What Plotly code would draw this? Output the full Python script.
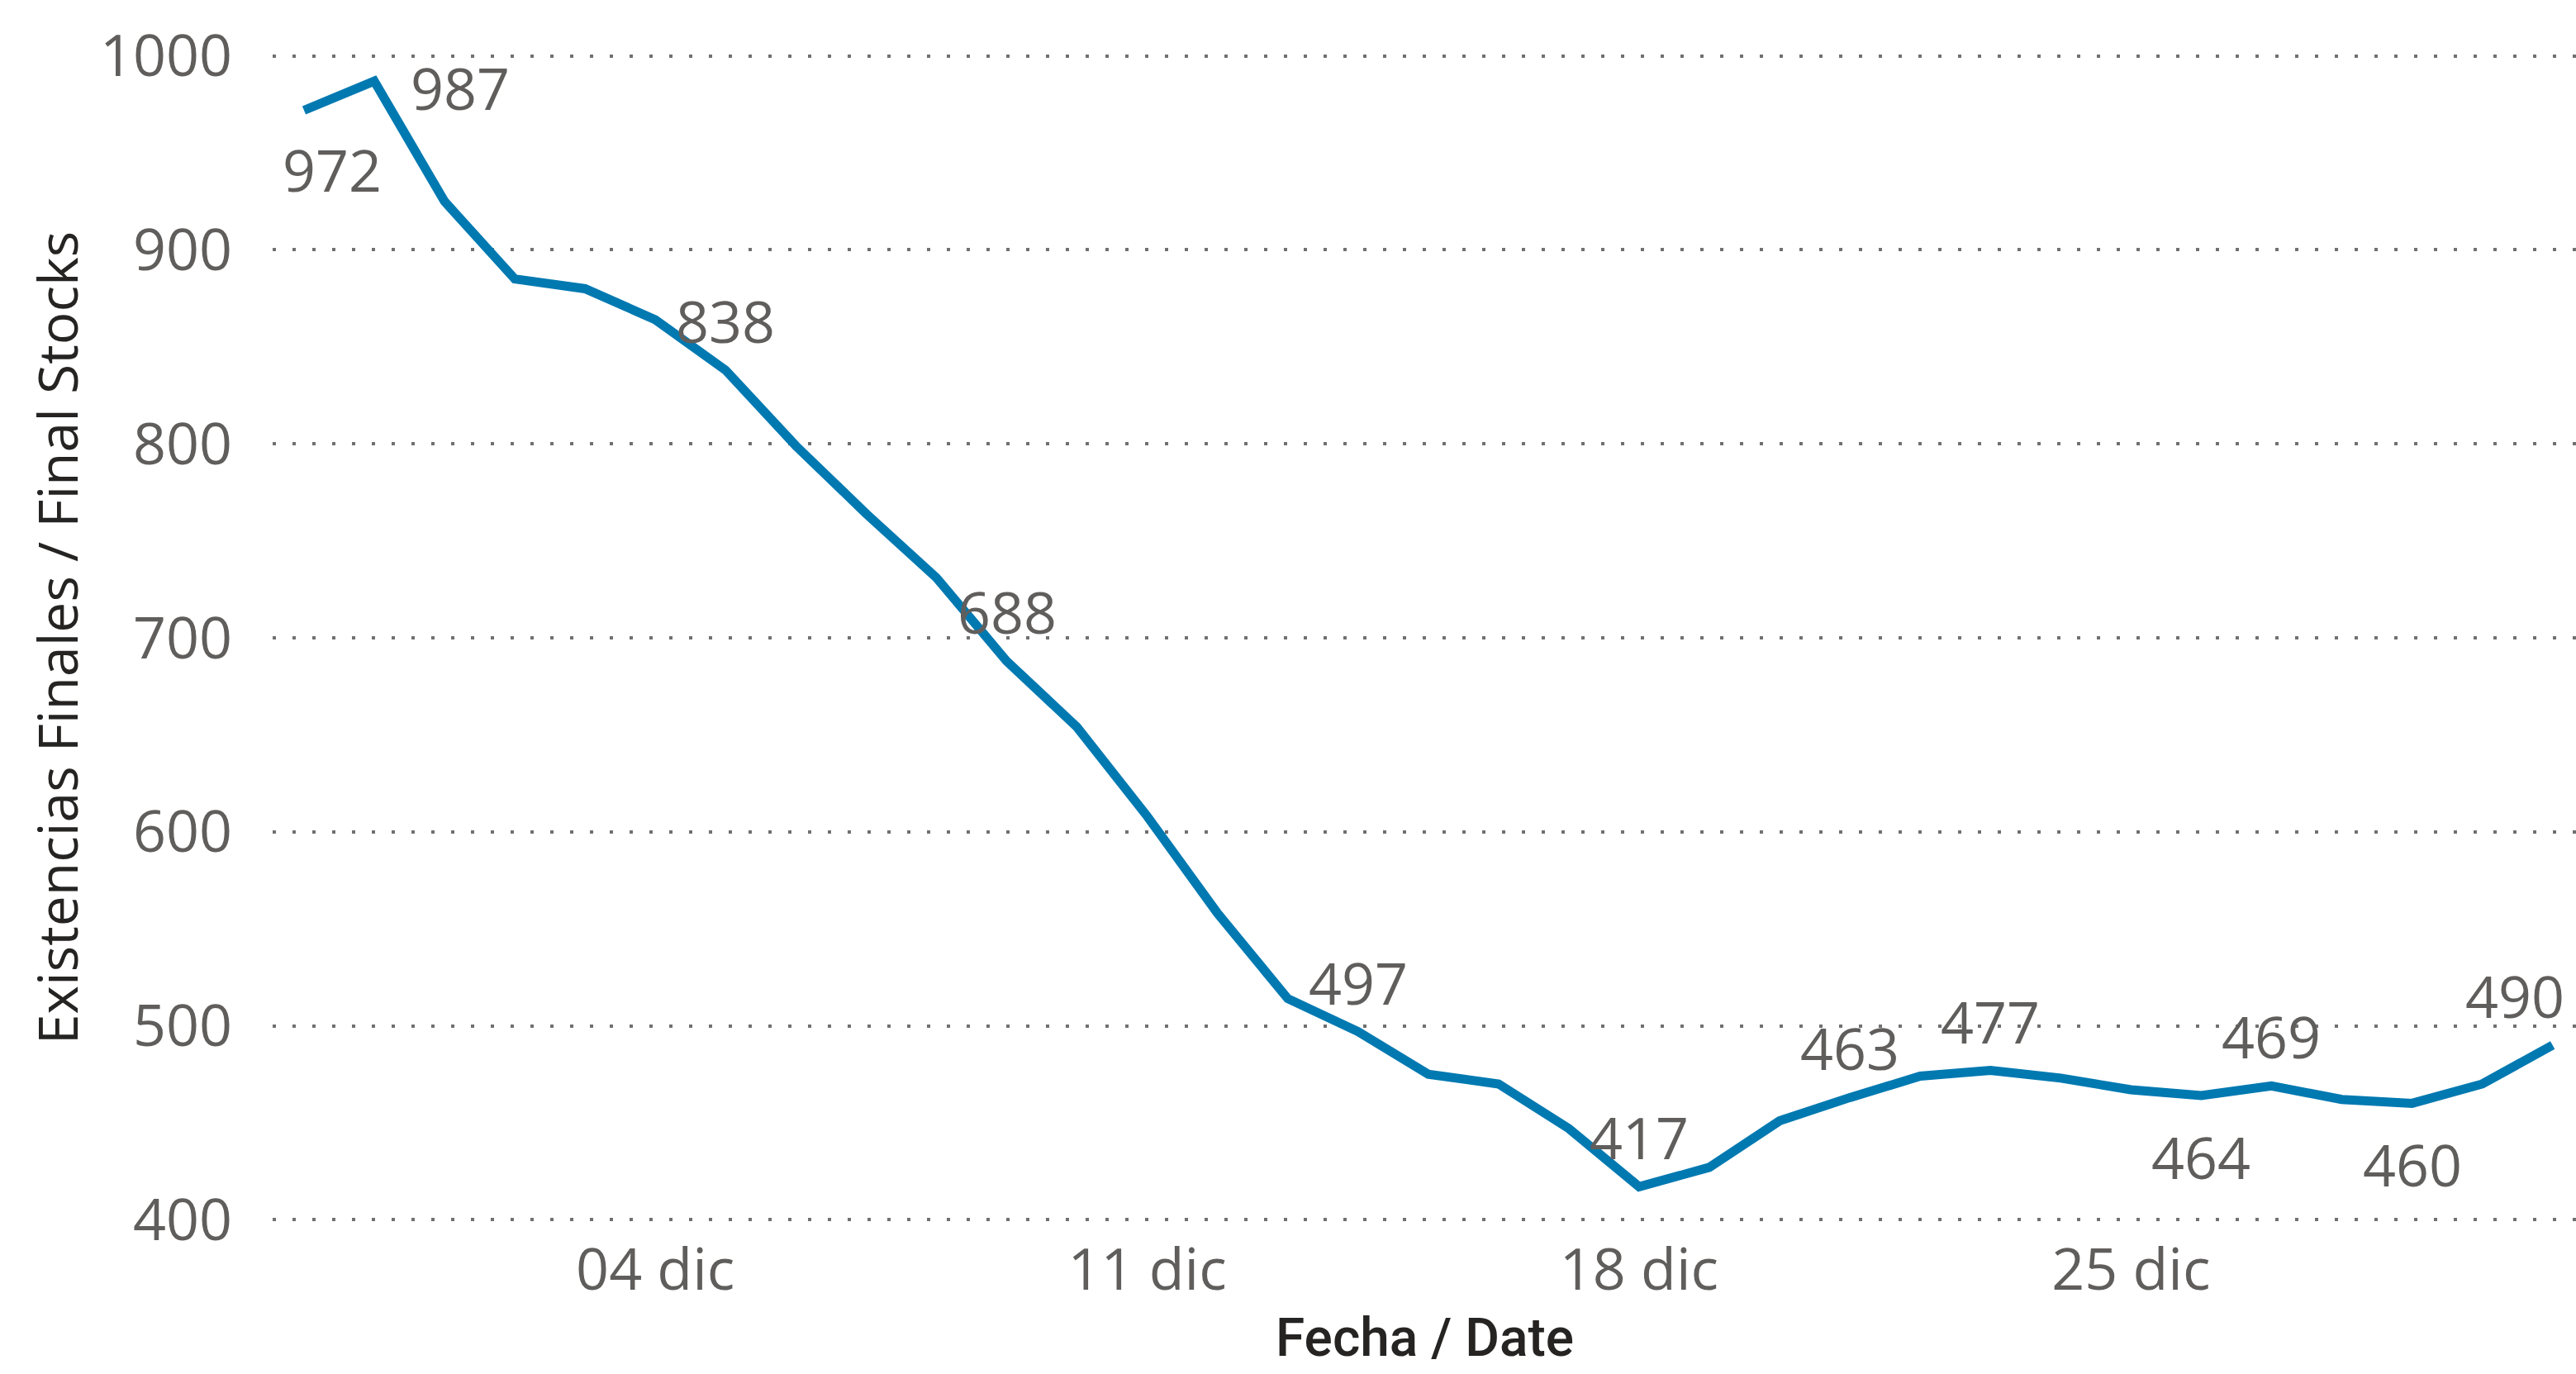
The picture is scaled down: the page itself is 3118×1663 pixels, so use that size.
import plotly.graph_objects as go

# ---- data ----
dates = [
    "2023-11-29", "2023-11-30", "2023-12-01", "2023-12-02", "2023-12-03",
    "2023-12-04", "2023-12-05", "2023-12-06", "2023-12-07", "2023-12-08",
    "2023-12-09", "2023-12-10", "2023-12-11", "2023-12-12", "2023-12-13",
    "2023-12-14", "2023-12-15", "2023-12-16", "2023-12-17", "2023-12-18",
    "2023-12-19", "2023-12-20", "2023-12-21", "2023-12-22", "2023-12-23",
    "2023-12-24", "2023-12-25", "2023-12-26", "2023-12-27", "2023-12-28",
    "2023-12-29", "2023-12-30", "2023-12-31",
]
stocks = [
    972, 987, 925, 885, 880,
    864, 838, 799, 764, 731,
    688, 654, 608, 558, 514,
    497, 475, 470, 447, 417,
    427, 451, 463, 474, 477,
    473, 467, 464, 469, 462,
    460, 470, 490,
]
labeled_points = [0, 1, 6, 10, 15, 19, 22, 24, 27, 28, 30, 32]

x_tick_vals = ["2023-12-04", "2023-12-11", "2023-12-18", "2023-12-25"]
x_tick_text = ["04 dic", "11 dic", "18 dic", "25 dic"]
y_tick_vals = [400, 500, 600, 700, 800, 900, 1000]

x_title = "Fecha / Date"
y_title = "Existencias Finales / Final Stocks"

# ---- styling ----
LINE_COLOR = "#0079B1"
TEXT_GRAY = "#605E5C"
TITLE_DARK = "#252423"
TICK_FONT = dict(family="Open Sans, Segoe UI, sans-serif", size=70, color=TEXT_GRAY)

# label offsets (px) relative to each labeled point
label_offsets = {
    0: (34, -72),
    1: (104, -8),
    27: (0, -74),
    30: (0, -74),
    32: (-46, 60),
}
default_offset = (0, 60)

fig = go.Figure()
fig.add_trace(go.Scatter(
    x=dates, y=stocks, mode="lines",
    line=dict(color=LINE_COLOR, width=11),
    hoverinfo="skip", showlegend=False,
))

for i in labeled_points:
    dx, dy = label_offsets.get(i, default_offset)
    fig.add_annotation(
        x=dates[i], y=stocks[i], text=str(stocks[i]),
        showarrow=False, xshift=dx, yshift=dy,
        xanchor="center", yanchor="middle",
        font=TICK_FONT,
    )

# x-axis title (placed as a paper annotation for precise positioning)
fig.add_annotation(
    x=0.5, y=0, xref="paper", yref="paper",
    text=x_title, showarrow=False,
    xanchor="center", yanchor="top", yshift=-92,
    font=dict(family="Roboto, sans-serif", size=64, color=TITLE_DARK, weight=500),
)

fig.update_layout(
    width=3118, height=1663,
    margin=dict(l=330, r=0, t=56, b=175, autoexpand=False),
    plot_bgcolor="white", paper_bgcolor="white",
    showlegend=False,
)

fig.update_xaxes(
    type="date",
    range=["2023-11-28 13:17", "2023-12-31 08:00"],
    tickvals=x_tick_vals, ticktext=x_tick_text,
    showgrid=False, zeroline=False, showline=False,
    ticks="", ticklabelstandoff=2,
    tickfont=TICK_FONT,
)

fig.update_yaxes(
    range=[395, 1005],
    tickvals=y_tick_vals,
    showgrid=True, gridcolor="#707070", gridwidth=4, griddash="4px,20px",
    zeroline=False, showline=False,
    ticks="outside", ticklen=34, tickcolor="rgba(0,0,0,0)",
    tickfont=TICK_FONT,
    title=dict(text=y_title, standoff=4,
               font=dict(family="Open Sans, Segoe UI, sans-serif", size=66, color=TITLE_DARK)),
)

fig.write_html(
    "out.html",
    config={"displayModeBar": False},
    post_script="document.body.style.margin='0';document.body.style.overflow='hidden';",
)
